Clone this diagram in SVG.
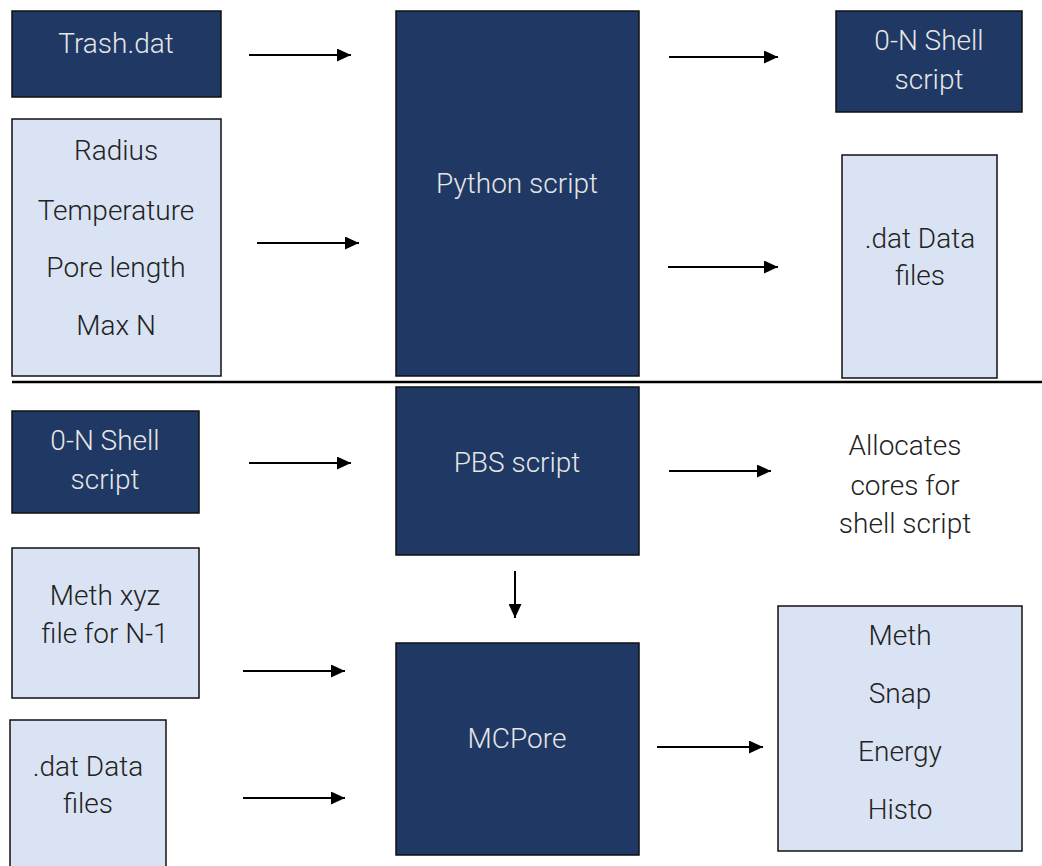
<svg xmlns="http://www.w3.org/2000/svg" width="1042" height="866" viewBox="0 0 1042 866">
<defs>
<marker id="ah" markerWidth="14" markerHeight="13" refX="14" refY="6.5" orient="auto" markerUnits="userSpaceOnUse">
<path d="M0,0 L14,6.5 L0,13 Z" fill="#000"/>
</marker>
<style>
.dark{fill:#203864;stroke:#111;stroke-width:1.5}
.light{fill:#dae3f3;stroke:#111;stroke-width:1.5}
.tw{fill:#e6e6e6;font-family:Roboto,"Liberation Sans",sans-serif;font-weight:300;font-size:28px;text-anchor:middle}
.tb{fill:#222;font-family:Roboto,"Liberation Sans",sans-serif;font-weight:300;font-size:28px;text-anchor:middle}
.c{stroke:#000;stroke-width:2;fill:none;marker-end:url(#ah)}
</style>
</defs>
<rect width="1042" height="866" fill="#fff"/>
<g id="trash"><rect class="dark" x="12" y="11" width="209" height="86"/><text class="tw" x="116" y="53">Trash.dat</text></g>
<g id="params"><rect class="light" x="12" y="119" width="209" height="257"/>
<text class="tb" x="116" y="160">Radius</text><text class="tb" x="116" y="220">Temperature</text><text class="tb" x="116" y="277">Pore length</text><text class="tb" x="116" y="335">Max N</text></g>
<g id="python"><rect class="dark" x="396" y="11" width="243" height="365"/><text class="tw" x="517" y="193">Python script</text></g>
<g id="shell-top"><rect class="dark" x="836" y="11" width="186" height="101"/><text class="tw" x="929" y="50">0-N Shell</text><text class="tw" x="929" y="89">script</text></g>
<g id="dat-top"><rect class="light" x="842" y="155" width="155" height="223"/><text class="tb" x="920" y="248">.dat Data</text><text class="tb" x="920" y="285">files</text></g>
<g id="divider"><line x1="12" y1="382" x2="1042" y2="382" stroke="#000" stroke-width="2.5"/></g>
<g id="shell-bottom"><rect class="dark" x="12" y="411" width="187" height="102"/><text class="tw" x="105" y="450">0-N Shell</text><text class="tw" x="105" y="489">script</text></g>
<g id="pbs"><rect class="dark" x="396" y="387" width="243" height="168"/><text class="tw" x="517" y="472">PBS script</text></g>
<g id="allocates"><text class="tb" x="905" y="455">Allocates</text><text class="tb" x="905" y="495">cores for</text><text class="tb" x="905" y="533">shell script</text></g>
<g id="methxyz"><rect class="light" x="12" y="548" width="187" height="150"/><text class="tb" x="105" y="605">Meth xyz</text><text class="tb" x="105" y="643">file for N-1</text></g>
<g id="dat-bottom"><rect class="light" x="10" y="720" width="156" height="150"/><text class="tb" x="88" y="776">.dat Data</text><text class="tb" x="88" y="813">files</text></g>
<g id="mcpore"><rect class="dark" x="396" y="643" width="243" height="212"/><text class="tw" x="517" y="748">MCPore</text></g>
<g id="outputs"><rect class="light" x="778" y="606" width="244" height="245"/>
<text class="tb" x="900" y="645">Meth</text><text class="tb" x="900" y="703">Snap</text><text class="tb" x="900" y="761">Energy</text><text class="tb" x="900" y="819">Histo</text></g>
<g id="connectors">
<line class="c" x1="249" y1="55" x2="351" y2="55"/>
<line class="c" x1="257" y1="243" x2="359" y2="243"/>
<line class="c" x1="669" y1="57" x2="778" y2="57"/>
<line class="c" x1="668" y1="267" x2="778" y2="267"/>
<line class="c" x1="249" y1="463" x2="351" y2="463"/>
<line class="c" x1="669" y1="471" x2="771" y2="471"/>
<line class="c" x1="515" y1="571" x2="515" y2="618"/>
<line class="c" x1="243" y1="671" x2="345" y2="671"/>
<line class="c" x1="243" y1="798" x2="345" y2="798"/>
<line class="c" x1="657" y1="747" x2="763" y2="747"/>
</g>
</svg>
